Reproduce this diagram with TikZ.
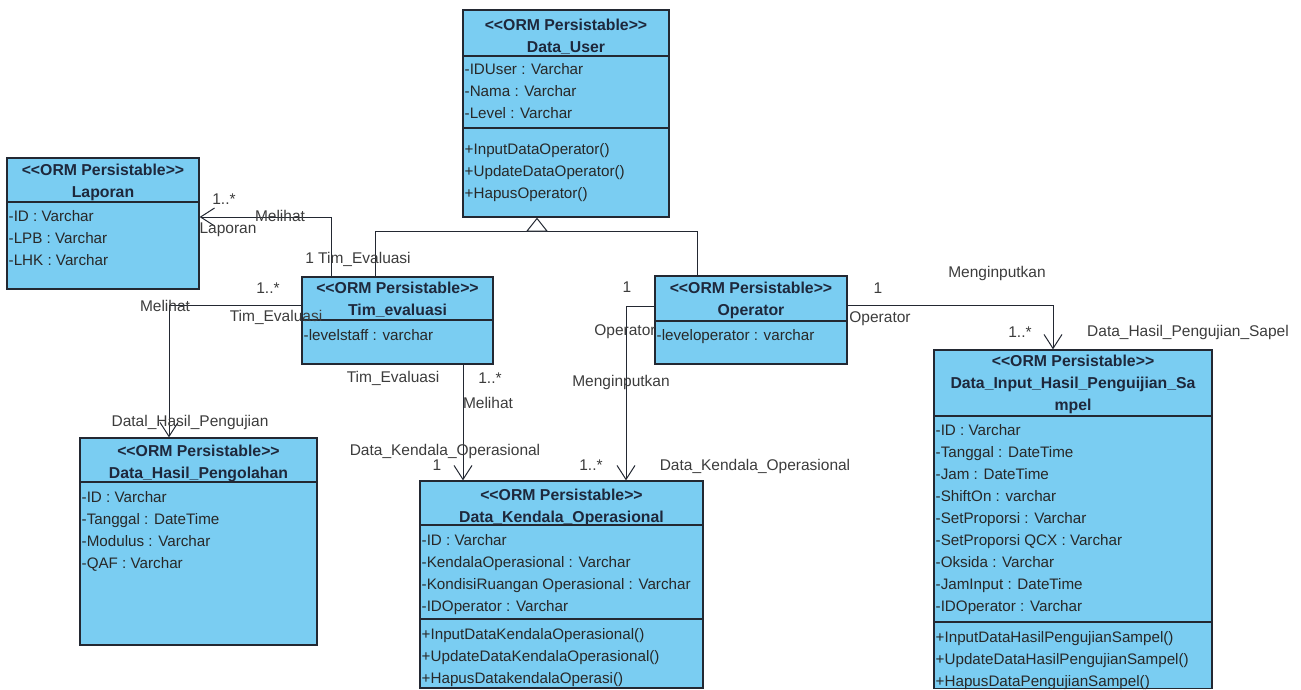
\documentclass[tikz,border=0pt]{standalone}
\usepackage{fontspec}
\setmainfont{Liberation Sans}[Ligatures=TeXOff]
\usetikzlibrary{arrows.meta}
\definecolor{clsfill}{RGB}{122,205,242}
\definecolor{bd}{RGB}{35,40,50}
\definecolor{hdrc}{RGB}{30,40,60}
\definecolor{txt}{RGB}{40,40,40}
\definecolor{lblc}{RGB}{60,60,60}
\begin{document}
\begin{tikzpicture}[x=1pt,y=-1pt,
  classbox/.style={draw=bd, fill=clsfill, line width=1.3pt, inner sep=0pt, rectangle},
  sepline/.style={draw=bd, line width=1.1pt},
  hdr/.style={anchor=north, inner sep=0pt, align=center, font=\fontsize{15.8}{22}\selectfont\bfseries, text=hdrc},
  body/.style={anchor=north west, inner sep=0pt, align=left, font=\fontsize{15.2}{22}\selectfont, text=txt},
  lbl/.style={anchor=base, inner sep=0pt, font=\fontsize{15.5}{18}\selectfont, text=lblc},
  assoc/.style={draw=bd, line width=1pt, -{Straight Barb[length=14pt,width=18pt]}},
  gen/.style={draw=bd, line width=1pt},
]
\useasboundingbox (0,0) rectangle (1301,689);

% ---------- classes ----------
% Data_User
\node[classbox, minimum width=206pt, minimum height=207pt] (user) at (566,113.5) {};
\draw[sepline] (user.west |- 0,56) -- (user.east |- 0,56);
\draw[sepline] (user.west |- 0,128) -- (user.east |- 0,128);
\node[hdr] (user-h) at (566,18.5) {<<ORM Persistable>>\\Data\_User};
\node[body] (user-a) at (464.5,63.5) {-IDUser : Varchar\\-Nama : Varchar\\-Level : Varchar};
\node[body] (user-m) at (464.5,143.5) {+InputDataOperator()\\+UpdateDataOperator()\\+HapusOperator()};

% Laporan
\node[classbox, minimum width=192pt, minimum height=131pt] (lap) at (103,223.5) {};
\draw[sepline] (lap.west |- 0,202) -- (lap.east |- 0,202);
\node[hdr] (lap-h) at (103,163.5) {<<ORM Persistable>>\\Laporan};
\node[body] (lap-a) at (8.5,210.5) {-ID : Varchar\\-LPB : Varchar\\-LHK : Varchar};

% Tim_evaluasi
\node[classbox, minimum width=191pt, minimum height=87pt] (tim) at (397.5,320.5) {};
\draw[sepline] (tim.west |- 0,320) -- (tim.east |- 0,320);
\node[hdr] (tim-h) at (397.5,281.5) {<<ORM Persistable>>\\Tim\_evaluasi};
\node[body] (tim-a) at (303.5,329.5) {-levelstaff : varchar};

% Operator
\node[classbox, minimum width=192pt, minimum height=88pt] (op) at (751,320) {};
\draw[sepline] (op.west |- 0,321) -- (op.east |- 0,321);
\node[hdr] (op-h) at (751,281.5) {<<ORM Persistable>>\\Operator};
\node[body] (op-a) at (656.5,329.5) {-leveloperator : varchar};

% Data_Hasil_Pengolahan
\node[classbox, minimum width=237pt, minimum height=207pt] (dhp) at (198.5,541.5) {};
\draw[sepline] (dhp.west |- 0,482) -- (dhp.east |- 0,482);
\node[hdr] (dhp-h) at (198.5,444.5) {<<ORM Persistable>>\\Data\_Hasil\_Pengolahan};
\node[body] (dhp-a) at (81.5,491.5) {-ID : Varchar\\-Tanggal : DateTime\\-Modulus : Varchar\\-QAF : Varchar};

% Data_Kendala_Operasional
\node[classbox, minimum width=283pt, minimum height=207pt] (dko) at (561.5,584.5) {};
\draw[sepline] (dko.west |- 0,525) -- (dko.east |- 0,525);
\draw[sepline] (dko.west |- 0,619) -- (dko.east |- 0,619);
\node[hdr] (dko-h) at (561.5,488.5) {<<ORM Persistable>>\\Data\_Kendala\_Operasional};
\node[body] (dko-a) at (421.5,534.5) {-ID : Varchar\\-KendalaOperasional : Varchar\\-KondisiRuangan Operasional : Varchar\\-IDOperator : Varchar};
\node[body] (dko-m) at (421.5,628.5) {+InputDataKendalaOperasional()\\+UpdateDataKendalaOperasional()\\+HapusDatakendalaOperasi()};

% Data_Input_Hasil_Penguijian_Sampel
\node[classbox, minimum width=278pt, minimum height=338.5pt] (dih) at (1073,519.25) {};
\draw[sepline] (dih.west |- 0,416) -- (dih.east |- 0,416);
\draw[sepline] (dih.west |- 0,622) -- (dih.east |- 0,622);
\node[hdr] (dih-h) at (1073,354.5) {<<ORM Persistable>>\\Data\_Input\_Hasil\_Penguijian\_Sa\\mpel};
\node[body] (dih-a) at (935.5,424.5) {-ID : Varchar\\-Tanggal : DateTime\\-Jam : DateTime\\-ShiftOn : varchar\\-SetProporsi : Varchar\\-SetProporsi QCX : Varchar\\-Oksida : Varchar\\-JamInput : DateTime\\-IDOperator : Varchar};
\node[body] (dih-m) at (935.5,631.5) {+InputDataHasilPengujianSampel()\\+UpdateDataHasilPengujianSampel()\\+HapusDataPengujianSampel()};

% ---------- connectors ----------
\coordinate (c1) at (331,217);
\coordinate (c2) at (169,305);
\coordinate (c3) at (463,420);
\coordinate (c4) at (626,306);
\coordinate (c5) at (1053,305);
\coordinate (c6) at (375,231);
\coordinate (c7) at (697,231);
\coordinate (c8) at (537,231);

\draw[assoc] (tim.north -| c1) -- (c1) -- (lap.east |- c1);
\draw[assoc] (tim.west |- c2) -- (c2) -- (dhp.north -| c2);
\draw[assoc] (tim.south -| c3) -- (dko.north -| c3);
\draw[assoc] (op.west |- c4) -- (c4) -- (dko.north -| c4);
\draw[assoc] (op.east |- c5) -- (c5) -- (dih.north -| c5);
\draw[gen] (tim.north -| c6) -- (c6) -- (c7) -- (op.north -| c7);
\draw[gen, -{Triangle[open,length=14pt,width=22pt,fill=white]}] (c8) -- (user.south -| c8);

% ---------- labels ----------
\node[lbl] (l1) at (224,204.5) {1..*};
\node[lbl] (l2) at (280,221.5) {Melihat};
\node[lbl] (l3) at (228,233.5) {Laporan};
\node[lbl] (l4) at (358,263.5) {1 Tim\_Evaluasi};
\node[lbl] (l5) at (268,293.5) {1..*};
\node[lbl] (l6) at (165,311.5) {Melihat};
\node[lbl] (l7) at (276,321.5) {Tim\_Evaluasi};
\node[lbl] (l8) at (190,426.5) {Datal\_Hasil\_Pengujian};
\node[lbl] (l9) at (393,382.5) {Tim\_Evaluasi};
\node[lbl] (l10) at (490,383.5) {1..*};
\node[lbl] (l11) at (488,408.5) {Melihat};
\node[lbl] (l12) at (445,455.5) {Data\_Kendala\_Operasional};
\node[lbl] (l13) at (437,470.5) {1};
\node[lbl] (l14) at (621,386.5) {Menginputkan};
\node[lbl] (l15) at (591,470.5) {1..*};
\node[lbl] (l16) at (755,470.5) {Data\_Kendala\_Operasional};
\node[lbl] (l17) at (627,292.5) {1};
\node[lbl] (l18) at (625,335.5) {Operator};
\node[lbl] (l19) at (878,293.5) {1};
\node[lbl] (l20) at (997,277.5) {Menginputkan};
\node[lbl] (l21) at (880,322.5) {Operator};
\node[lbl] (l22) at (1020,337.5) {1..*};
\node[lbl] (l23) at (1188,336.5) {Data\_Hasil\_Pengujian\_Sapel};
\end{tikzpicture}
\end{document}
